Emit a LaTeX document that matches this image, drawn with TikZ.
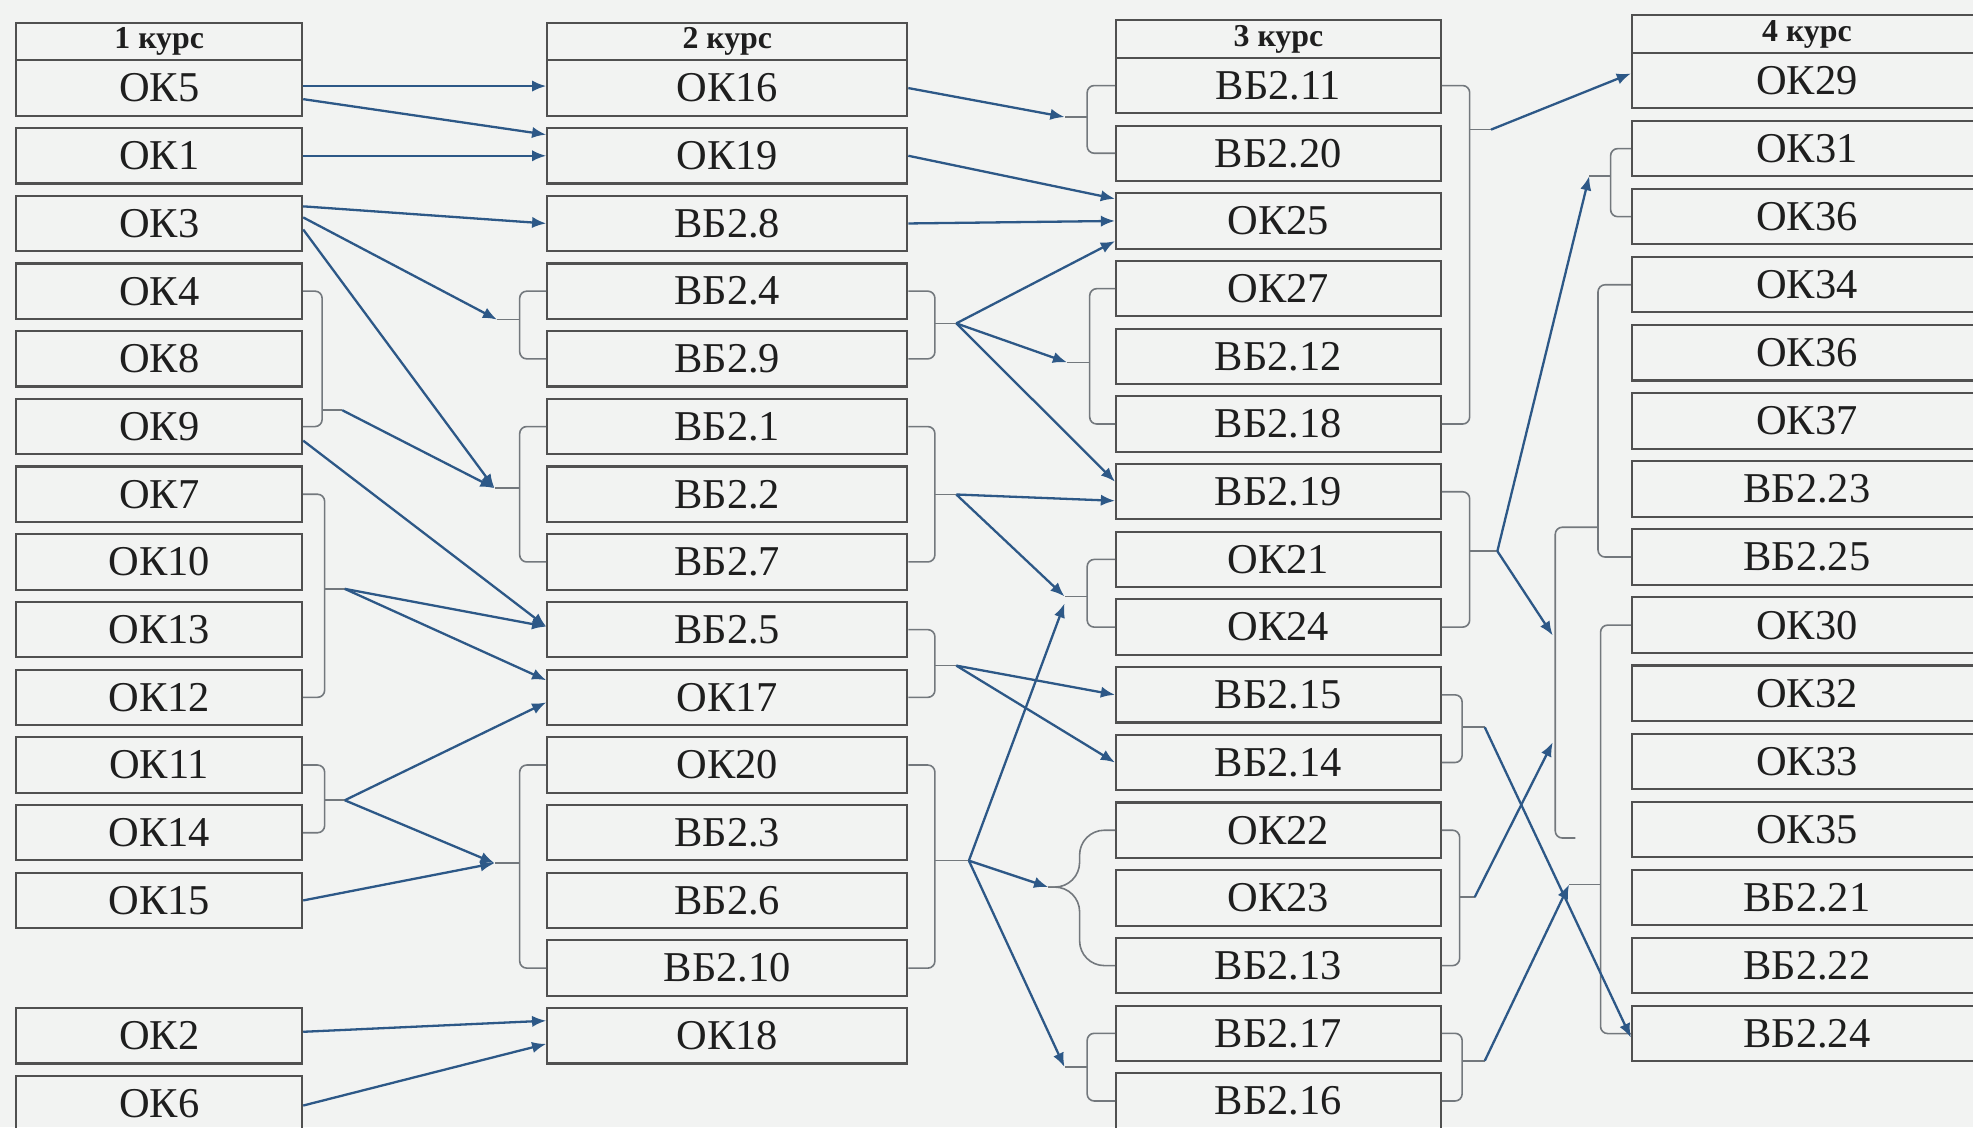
\documentclass[tikz,border=0pt]{standalone}
\usepackage{fontspec}
\setmainfont{Liberation Serif}
\usetikzlibrary{arrows.meta}
\definecolor{bgc}{RGB}{242,243,242}
\definecolor{boxc}{RGB}{80,80,80}
\definecolor{txtc}{RGB}{30,30,30}
\definecolor{brkc}{RGB}{115,120,125}
\definecolor{arrc}{RGB}{45,88,135}

\begin{document}
\begin{tikzpicture}[x=0.0125cm, y=-0.0125cm,
    box/.style={draw=boxc, line width=0.6pt, minimum height=0.55cm, inner sep=0pt, text=txtc, font=\fontsize{12}{14}\selectfont},
    hd/.style={draw=boxc, line width=0.6pt, minimum height=0.375cm, inner sep=0pt, text=txtc, font=\fontsize{9}{10}\selectfont\bfseries},
    wa/.style={minimum width=2.84cm}, wb/.style={minimum width=3.575cm},
    wc/.style={minimum width=3.225cm}, wd/.style={minimum width=3.475cm},
    brk/.style={draw=brkc, line width=0.45pt, rounded corners=2pt},
    arr/.style={draw=arrc, line width=0.65pt, -{Latex[length=4pt,width=3.2pt]}}]

            \fill[bgc] (0,0) rectangle (1568,896);
            \useasboundingbox (0,0) rectangle (1568,896);

            \node [hd, wa] (h1) at (126.5,33) {1 курс};
            \node [box, wa] (ok5) at (126.5,70) {ОК5};
            \node [box, wa] (ok1) at (126.5,123.8) {ОК1};
            \node [box, wa] (ok3) at (126.5,177.6) {ОК3};
            \node [box, wa] (ok4) at (126.5,231.4) {ОК4};
            \node [box, wa] (ok8) at (126.5,285.2) {ОК8};
            \node [box, wa] (ok9) at (126.5,339) {ОК9};
            \node [box, wa] (ok7) at (126.5,392.8) {ОК7};
            \node [box, wa] (ok10) at (126.5,446.6) {ОК10};
            \node [box, wa] (ok13) at (126.5,500.4) {ОК13};
            \node [box, wa] (ok12) at (126.5,554.2) {ОК12};
            \node [box, wa] (ok11) at (126.5,608) {ОК11};
            \node [box, wa] (ok14) at (126.5,661.8) {ОК14};
            \node [box, wa] (ok15) at (126.5,715.6) {ОК15};
            \node [box, wa] (ok2) at (126.5,823.2) {ОК2};
            \node [box, wa] (ok6) at (126.5,877) {ОК6};

            \node [hd, wb] (h2) at (578,33) {2 курс};
            \node [box, wb] (ok16) at (578,70) {ОК16};
            \node [box, wb] (ok19) at (578,123.8) {ОК19};
            \node [box, wb] (vb8) at (578,177.6) {ВБ2.8};
            \node [box, wb] (vb4) at (578,231.4) {ВБ2.4};
            \node [box, wb] (vb9) at (578,285.2) {ВБ2.9};
            \node [box, wb] (vb1) at (578,339) {ВБ2.1};
            \node [box, wb] (vb2) at (578,392.8) {ВБ2.2};
            \node [box, wb] (vb7) at (578,446.6) {ВБ2.7};
            \node [box, wb] (vb5) at (578,500.4) {ВБ2.5};
            \node [box, wb] (ok17) at (578,554.2) {ОК17};
            \node [box, wb] (ok20) at (578,608) {ОК20};
            \node [box, wb] (vb3) at (578,661.8) {ВБ2.3};
            \node [box, wb] (vb6) at (578,715.6) {ВБ2.6};
            \node [box, wb] (vb10) at (578,769.4) {ВБ2.10};
            \node [box, wb] (ok18) at (578,823.2) {ОК18};

            \node [hd, wc] (h3) at (1016,31) {3 курс};
            \node [box, wc] (vb11) at (1016,68) {ВБ2.11};
            \node [box, wc] (vb20) at (1016,121.8) {ВБ2.20};
            \node [box, wc] (ok25) at (1016,175.6) {ОК25};
            \node [box, wc] (ok27) at (1016,229.4) {ОК27};
            \node [box, wc] (vb12) at (1016,283.2) {ВБ2.12};
            \node [box, wc] (vb18) at (1016,337) {ВБ2.18};
            \node [box, wc] (vb19) at (1016,390.8) {ВБ2.19};
            \node [box, wc] (ok21) at (1016,444.6) {ОК21};
            \node [box, wc] (ok24) at (1016,498.4) {ОК24};
            \node [box, wc] (vb15) at (1016,552.2) {ВБ2.15};
            \node [box, wc] (vb14) at (1016,606) {ВБ2.14};
            \node [box, wc] (ok22) at (1016,659.8) {ОК22};
            \node [box, wc] (ok23) at (1016,713.6) {ОК23};
            \node [box, wc] (vb13) at (1016,767.4) {ВБ2.13};
            \node [box, wc] (vb17) at (1016,821.2) {ВБ2.17};
            \node [box, wc] (vb16) at (1016,875) {ВБ2.16};

            \node [hd, wd] (h4) at (1436,27) {4 курс};
            \node [box, wd] (ok29) at (1436,64) {ОК29};
            \node [box, wd] (ok31) at (1436,118.1) {ОК31};
            \node [box, wd] (ok36a) at (1436,172.2) {ОК36};
            \node [box, wd] (ok34) at (1436,226.3) {ОК34};
            \node [box, wd] (ok36b) at (1436,280.4) {ОК36};
            \node [box, wd] (ok37) at (1436,334.5) {ОК37};
            \node [box, wd] (vb23) at (1436,388.6) {ВБ2.23};
            \node [box, wd] (vb25) at (1436,442.7) {ВБ2.25};
            \node [box, wd] (ok30) at (1436,496.8) {ОК30};
            \node [box, wd] (ok32) at (1436,550.9) {ОК32};
            \node [box, wd] (ok33) at (1436,605) {ОК33};
            \node [box, wd] (ok35) at (1436,659.1) {ОК35};
            \node [box, wd] (vb21) at (1436,713.2) {ВБ2.21};
            \node [box, wd] (vb22) at (1436,767.3) {ВБ2.22};
            \node [box, wd] (vb24) at (1436,821.4) {ВБ2.24};

            \coordinate (j1) at (272,326); \coordinate (j2) at (274,468); \coordinate (j3) at (274,636);
            \coordinate (p1) at (395,254); \coordinate (p2) at (393,388); \coordinate (p3) at (393,686);
            \coordinate (j4) at (760,257); \coordinate (j5) at (760,393);
            \coordinate (j6) at (760,529); \coordinate (j7) at (770,684);
            \coordinate (p4) at (846,93); \coordinate (p5) at (848,288); \coordinate (p6) at (846,474);
            \coordinate (p7) at (833,705); \coordinate (p8) at (846,848);
            \coordinate (j8) at (1185,103); \coordinate (j9) at (1190,438); \coordinate (j10) at (1180,578);
            \coordinate (j11) at (1172,713); \coordinate (j12) at (1180,843);
            \coordinate (p9) at (1263,140); \coordinate (p10) at (1234,505);
            \coordinate (p11) at (1234,590); \coordinate (p12) at (1247,703);
            \coordinate (bus) at (1252,666);

            \draw [brk] (ok4.east) -| (256,326) |- (ok9.east); \draw [brk] (256,326) -- (j1);
            \draw [brk] (ok7.east) -| (258,468) |- (ok12.east); \draw [brk] (258,468) -- (j2);
            \draw [brk] (ok11.east) -| (258,636) |- (ok14.east); \draw [brk] (258,636) -- (j3);

            \draw [brk] (vb4.west) -| (413,254) |- (vb9.west); \draw [brk] (413,254) -- (p1);
            \draw [brk] (vb1.west) -| (413,388) |- (vb7.west); \draw [brk] (413,388) -- (p2);
            \draw [brk] (ok20.west) -| (413,686) |- (vb10.west); \draw [brk] (413,686) -- (p3);

            \draw [brk] (vb4.east) -| (743,257) |- (vb9.east); \draw [brk] (743,257) -- (j4);
            \draw [brk] (vb1.east) -| (743,393) |- (vb7.east); \draw [brk] (743,393) -- (j5);
            \draw [brk] (vb5.east) -| (743,529) |- (ok17.east); \draw [brk] (743,529) -- (j6);
            \draw [brk] (ok20.east) -| (743,684) |- (vb10.east); \draw [brk] (743,684) -- (j7);

            \draw [brk] (vb11.west) -| (864,93) |- (vb20.west); \draw [brk] (864,93) -- (p4);
            \draw [brk] (ok27.west) -| (866,288) |- (vb18.west); \draw [brk] (866,288) -- (p5);
            \draw [brk] (ok21.west) -| (864,474) |- (ok24.west); \draw [brk] (864,474) -- (p6);
            \draw [brk, rounded corners=7pt] (ok22.west) -| (858,705) -- (p7);
            \draw [brk, rounded corners=7pt] (vb13.west) -| (858,705) -- (p7);
            \draw [brk] (vb17.west) -| (864,848) |- (vb16.west); \draw [brk] (864,848) -- (p8);

            \draw [brk] (vb11.east) -| (1168,103) |- (vb18.east); \draw [brk] (1168,103) -- (j8);
            \draw [brk] (vb19.east) -| (1168,438) |- (ok24.east); \draw [brk] (1168,438) -- (j9);
            \draw [brk] (vb15.east) -| (1162,578) |- (vb14.east); \draw [brk] (1162,578) -- (j10);
            \draw [brk] (ok22.east) -| (1160,713) |- (vb13.east); \draw [brk] (1160,713) -- (j11);
            \draw [brk] (vb17.east) -| (1162,843) |- (vb16.east); \draw [brk] (1162,843) -- (j12);

            \draw [brk] (ok31.west) -| (1280,140) |- (ok36a.west); \draw [brk] (1280,140) -- (p9);
            \draw [brk] (ok34.west) -| (1270,419) |- (vb25.west); \draw [brk] (1270,419) -| (1236,666) -- (bus);
            \draw [brk] (ok30.west) -| (1272,703) |- (vb24.west); \draw [brk] (1272,703) -- (p12);

            \draw [arr] ([yshift=0.2mm]ok5.east) -- ([yshift=0.2mm]ok16.west);
            \draw [arr] ([yshift=-1.1mm]ok5.east) -- ([yshift=2.1mm]ok19.west);
            \draw [arr] (ok1.east) -- (ok19.west);
            \draw [arr] ([yshift=1.7mm]ok3.east) -- (vb8.west);
            \draw [arr] ([yshift=0.6mm]ok3.east) -- (p1);
            \draw [arr] ([yshift=-0.6mm]ok3.east) -- (p2);
            \draw [arr] (j1) -- (p2);
            \draw [arr] ([yshift=-1.4mm]ok9.east) -- ([yshift=0.3mm]vb5.west);
            \draw [arr] (j2) -- ([yshift=0.3mm]vb5.west);
            \draw [arr] (j2) -- ([yshift=1.7mm]ok17.west);
            \draw [arr] (j3) -- ([yshift=-0.5mm]ok17.west);
            \draw [arr] (j3) -- (p3);
            \draw [arr] (ok15.east) -- (p3);
            \draw [arr] ([yshift=0.4mm]ok2.east) -- ([yshift=1.5mm]ok18.west);
            \draw [arr] ([yshift=-0.2mm]ok6.east) -- ([yshift=-0.8mm]ok18.west);

            \draw [arr] (ok16.east) -- (p4);
            \draw [arr] (ok19.east) -- ([yshift=2.2mm]ok25.west);
            \draw [arr] (vb8.east) -- (ok25.west);
            \draw [arr] (j4) -- ([yshift=-2mm]ok25.west);
            \draw [arr] (j4) -- (p5);
            \draw [arr] (j4) -- ([yshift=1mm]vb19.west);
            \draw [arr] (j5) -- ([yshift=-0.9mm]vb19.west);
            \draw [arr] (j5) -- (p6);
            \draw [arr] (j6) -- (vb15.west);
            \draw [arr] (j6) -- (vb14.west);
            \draw [arr] (j7) -- ([yshift=-0.7mm]p6);
            \draw [arr] (j7) -- (p7);
            \draw [arr] (j7) -- (p8);

            \draw [arr] (j8) -- ([yshift=0.7mm]ok29.west);
            \draw [arr] (j9) -- (p9);
            \draw [arr] (j9) -- (p10);
            \draw [arr] (j10) -- ([yshift=-0.4mm]vb24.west);
            \draw [arr] (j11) -- (p11);
            \draw [arr] (j12) -- (p12);
        \end{tikzpicture}
\end{document}
